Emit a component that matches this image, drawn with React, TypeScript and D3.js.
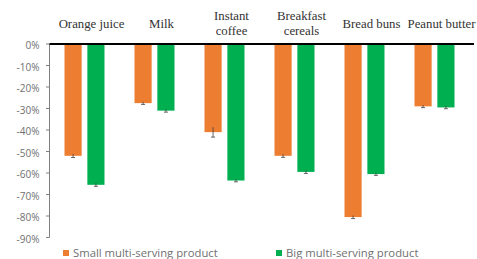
import React from "react";
import * as d3 from "d3";

const categories = ["Orange juice", "Milk", "Instant coffee", "Breakfast cereals", "Bread buns", "Peanut butter"];
const categoryLines = [["Orange juice"], ["Milk"], ["Instant", "coffee"], ["Breakfast", "cereals"], ["Bread buns"], ["Peanut butter"]];
const seriesNames = ["Small multi-serving product", "Big multi-serving product"];
const smallValues = [-52, -27.5, -41, -52, -80.5, -29];
const bigValues = [-65.5, -31, -63.5, -59.5, -60.5, -29.5];
const smallErrors = [0.8, 0.6, 2.3, 0.7, 0.7, 0.6];
const bigErrors = [0.7, 0.7, 0.6, 0.7, 0.6, 0.6];
const yTicks = [0, -10, -20, -30, -40, -50, -60, -70, -80, -90];
const colors = ["#ED7D31", "#00B050"];

export default function App() {
  const W = 477, H = 259;
  const x = d3.scaleBand<string>().domain(categories).range([49.5, 469.5]).paddingInner(0).paddingOuter(0);
  const inner = d3.scaleBand<string>().domain(["0", "1"]).range([-20, 20]).paddingInner(0.25).paddingOuter(0);
  const y = d3.scaleLinear().domain([0, -90]).range([44, 237.5]);
  const series = [smallValues, bigValues];
  const errs = [smallErrors, bigErrors];
  const sans = "'Open Sans', sans-serif";
  const serif = "'Liberation Serif', 'DejaVu Serif Condensed', 'DejaVu Serif', serif";
  const labelShift = 7;
  return (
    <svg width={W} height={H} style={{ position: "absolute", left: 0, top: 0, background: "#fff" }}>
      <rect width={W} height={H} fill="#fff" />
      {yTicks.map((t) => (
        <g key={t}>
          <line x1={46} x2={49.5} y1={y(t)} y2={y(t)} stroke="#808080" strokeWidth={1} />
          <text x={39.5} y={y(t) + 1.5} dy="0.35em" textAnchor="end" style={{ fontFamily: sans }} fontSize={10} fill="#707070">{t}%</text>
        </g>
      ))}
      <line x1={49.5} x2={49.5} y1={y(0)} y2={y(-90)} stroke="#808080" strokeWidth={1} />
      {categories.map((c, i) => (
        <g key={c}>
          {series.map((vals, s) => {
            const cx = (x(c) as number) + x.bandwidth() / 2;
            const bx = cx + (inner(String(s)) as number);
            const bw = inner.bandwidth();
            const v = vals[i];
            const e = errs[s][i];
            return (
              <g key={s}>
                <rect x={bx} y={y(0)} width={bw} height={y(v) - y(0)} fill={colors[s]} />
                <line x1={bx + bw / 2} x2={bx + bw / 2} y1={y(v + e)} y2={y(v - e)} stroke="#404040" strokeWidth={0.8} />
                <line x1={bx + bw / 2 - 2} x2={bx + bw / 2 + 2} y1={y(v - e)} y2={y(v - e)} stroke="#404040" strokeWidth={0.8} />
              </g>
            );
          })}
          {categoryLines[i].map((ln, k) => {
            const n = categoryLines[i].length;
            const baseY = n === 1 ? 27.5 : 19.5 + k * 15;
            return (
              <text key={k} x={(x(c) as number) + x.bandwidth() / 2 + labelShift} y={baseY} textAnchor="middle" style={{ fontFamily: serif }} fontSize={12.8} fill="#333">{ln}</text>
            );
          })}
        </g>
      ))}
      <line x1={49.5} x2={474} y1={y(0)} y2={y(0)} stroke="#000" strokeWidth={1.8} />
      {seriesNames.map((n, s) => {
        const lx = s === 0 ? 63 : 276;
        return (
          <g key={n}>
            <rect x={lx} y={250} width={6} height={6} fill={colors[s]} />
            <text x={lx + 10} y={253} dy="0.35em" style={{ fontFamily: sans }} fontSize={11.3} fill="#707070">{n}</text>
          </g>
        );
      })}
    </svg>
  );
}
